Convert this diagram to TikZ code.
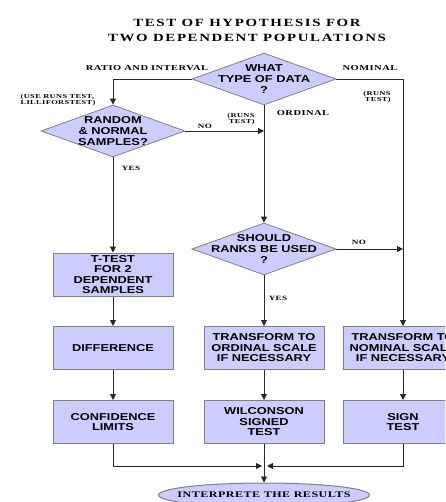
\documentclass[tikz,border=0pt]{standalone}
\usepackage{fontspec}
\usepackage{xcolor}
\usepackage{tikz}
\usetikzlibrary{shapes.geometric, arrows.meta, positioning}
\newfontfamily\boxfont[FakeStretch=1.28]{Liberation Sans}
\newfontfamily\tagfont[FakeStretch=1.4,LetterSpace=6]{Liberation Serif}
\newfontfamily\titlefont[FakeStretch=1.35,LetterSpace=15]{Liberation Serif}
\definecolor{boxfill}{RGB}{204, 204, 255}
\definecolor{boxline}{RGB}{128, 128, 128}
\definecolor{flowline}{RGB}{40, 40, 40}

\begin{document}
\begin{tikzpicture}[x=1pt, y=-1pt,
    box/.style={rectangle, draw=boxline, fill=boxfill, line width=1pt,
                minimum width=120pt, minimum height=43pt, inner sep=0pt,
                align=center, font=\boxfont\bfseries\fontsize{10}{10.5}\selectfont},
    decision/.style={diamond, draw=boxline, fill=boxfill, line width=0.8pt,
                     minimum width=144pt, minimum height=52pt, aspect=2.77,
                     inner xsep=-15pt, inner ysep=-8pt, align=center,
                     font=\boxfont\bfseries\fontsize{10}{10.8}\selectfont},
    result/.style={ellipse, draw=boxline, fill=boxfill, line width=1pt,
                   minimum width=211pt, minimum height=24pt,
                   inner xsep=-40pt, inner ysep=-4pt,
                   font=\tagfont\bfseries\fontsize{8.6}{9}\selectfont},
    tag/.style={inner sep=0pt, align=center, font=\tagfont\bfseries\fontsize{7.5}{8}\selectfont},
    yesno/.style={inner sep=0pt, font=\tagfont\bfseries\fontsize{6.5}{7}\selectfont},
    note/.style={inner sep=0pt, font=\tagfont\bfseries\fontsize{6}{6.8}\selectfont},
    arr/.style={-{Triangle[length=6pt, width=6pt]}, line width=0.9pt, color=flowline}
]
\useasboundingbox (0,0) rectangle (445,502);
\clip (0,0) rectangle (445,502);

\node[inner sep=0pt, align=center, font=\titlefont\bfseries\fontsize{11}{15}\selectfont] (title) at (247,30)
    {TEST OF HYPOTHESIS FOR\\TWO DEPENDENT POPULATIONS};

\node[decision] (datatype) at (264,79) {WHAT\\TYPE OF DATA\\?};
\node[decision] (randnorm) at (113,131) {RANDOM\\\& NORMAL\\SAMPLES?};
\node[decision] (ranks) at (264,249) {SHOULD\\RANKS BE USED\\?};

\node[box] (ttest) at (113,274.5) {T-TEST\\FOR 2\\DEPENDENT\\SAMPLES};
\node[box] (diff) at (113,348) {DIFFERENCE};
\node[box] (conf) at (113,422) {CONFIDENCE\\LIMITS};
\node[box] (toordinal) at (264,348) {TRANSFORM TO\\ORDINAL SCALE\\IF NECESSARY};
\node[box] (wilcoxon) at (264,422) {WILCONSON\\SIGNED\\TEST};
\node[box] (tonominal) at (403,348) {TRANSFORM TO\\NOMINAL SCALE\\IF NECESSARY};
\node[box] (sign) at (403,422) {SIGN\\TEST};
\node[result] (interp) at (264,495) {INTERPRETE THE RESULTS};

\coordinate (join) at (264,466);

\node[tag] (ratio) at (147,68) {RATIO AND INTERVAL};
\node[tag] (nominal) at (370,68) {NOMINAL};
\node[tag] (ordinal) at (303,113) {ORDINAL};
\node[note, align=right] (runsright) at (377,97) {(RUNS\\TEST)};
\node[note, align=left] (lillie) at (58,100) {(USE RUNS TEST,\\LILLIFORSTEST)};
\node[note, align=right] (runsmid) at (241,119) {(RUNS\\TEST)};
\node[yesno] (nofirst) at (205,126) {NO};
\node[yesno] (yesfirst) at (131,168) {YES};
\node[yesno] (nosecond) at (359,242) {NO};
\node[yesno] (yessecond) at (278,298) {YES};

\draw[arr] (datatype.west) -| (randnorm.north);
\draw[arr] (datatype.east) -| (tonominal.north);
\draw[arr] (datatype.south) -- (ranks.north);
\draw[arr] (randnorm.east) -- (randnorm.east -| datatype.south);
\draw[arr] (randnorm.south) -- (ttest.north);
\draw[arr] (ranks.east) -- (ranks.east -| tonominal.north);
\draw[arr] (ranks.south) -- (toordinal.north);
\draw[arr] (ttest) -- (diff);
\draw[arr] (diff) -- (conf);
\draw[arr] (toordinal) -- (wilcoxon);
\draw[arr] (tonominal) -- (sign);
\draw[arr, shorten >=2pt] (conf.south) |- (join);
\draw[arr, shorten >=3pt] (sign.south) |- (join);
\draw[arr] (wilcoxon.south) -- (interp.north);

\end{tikzpicture}
\end{document}
